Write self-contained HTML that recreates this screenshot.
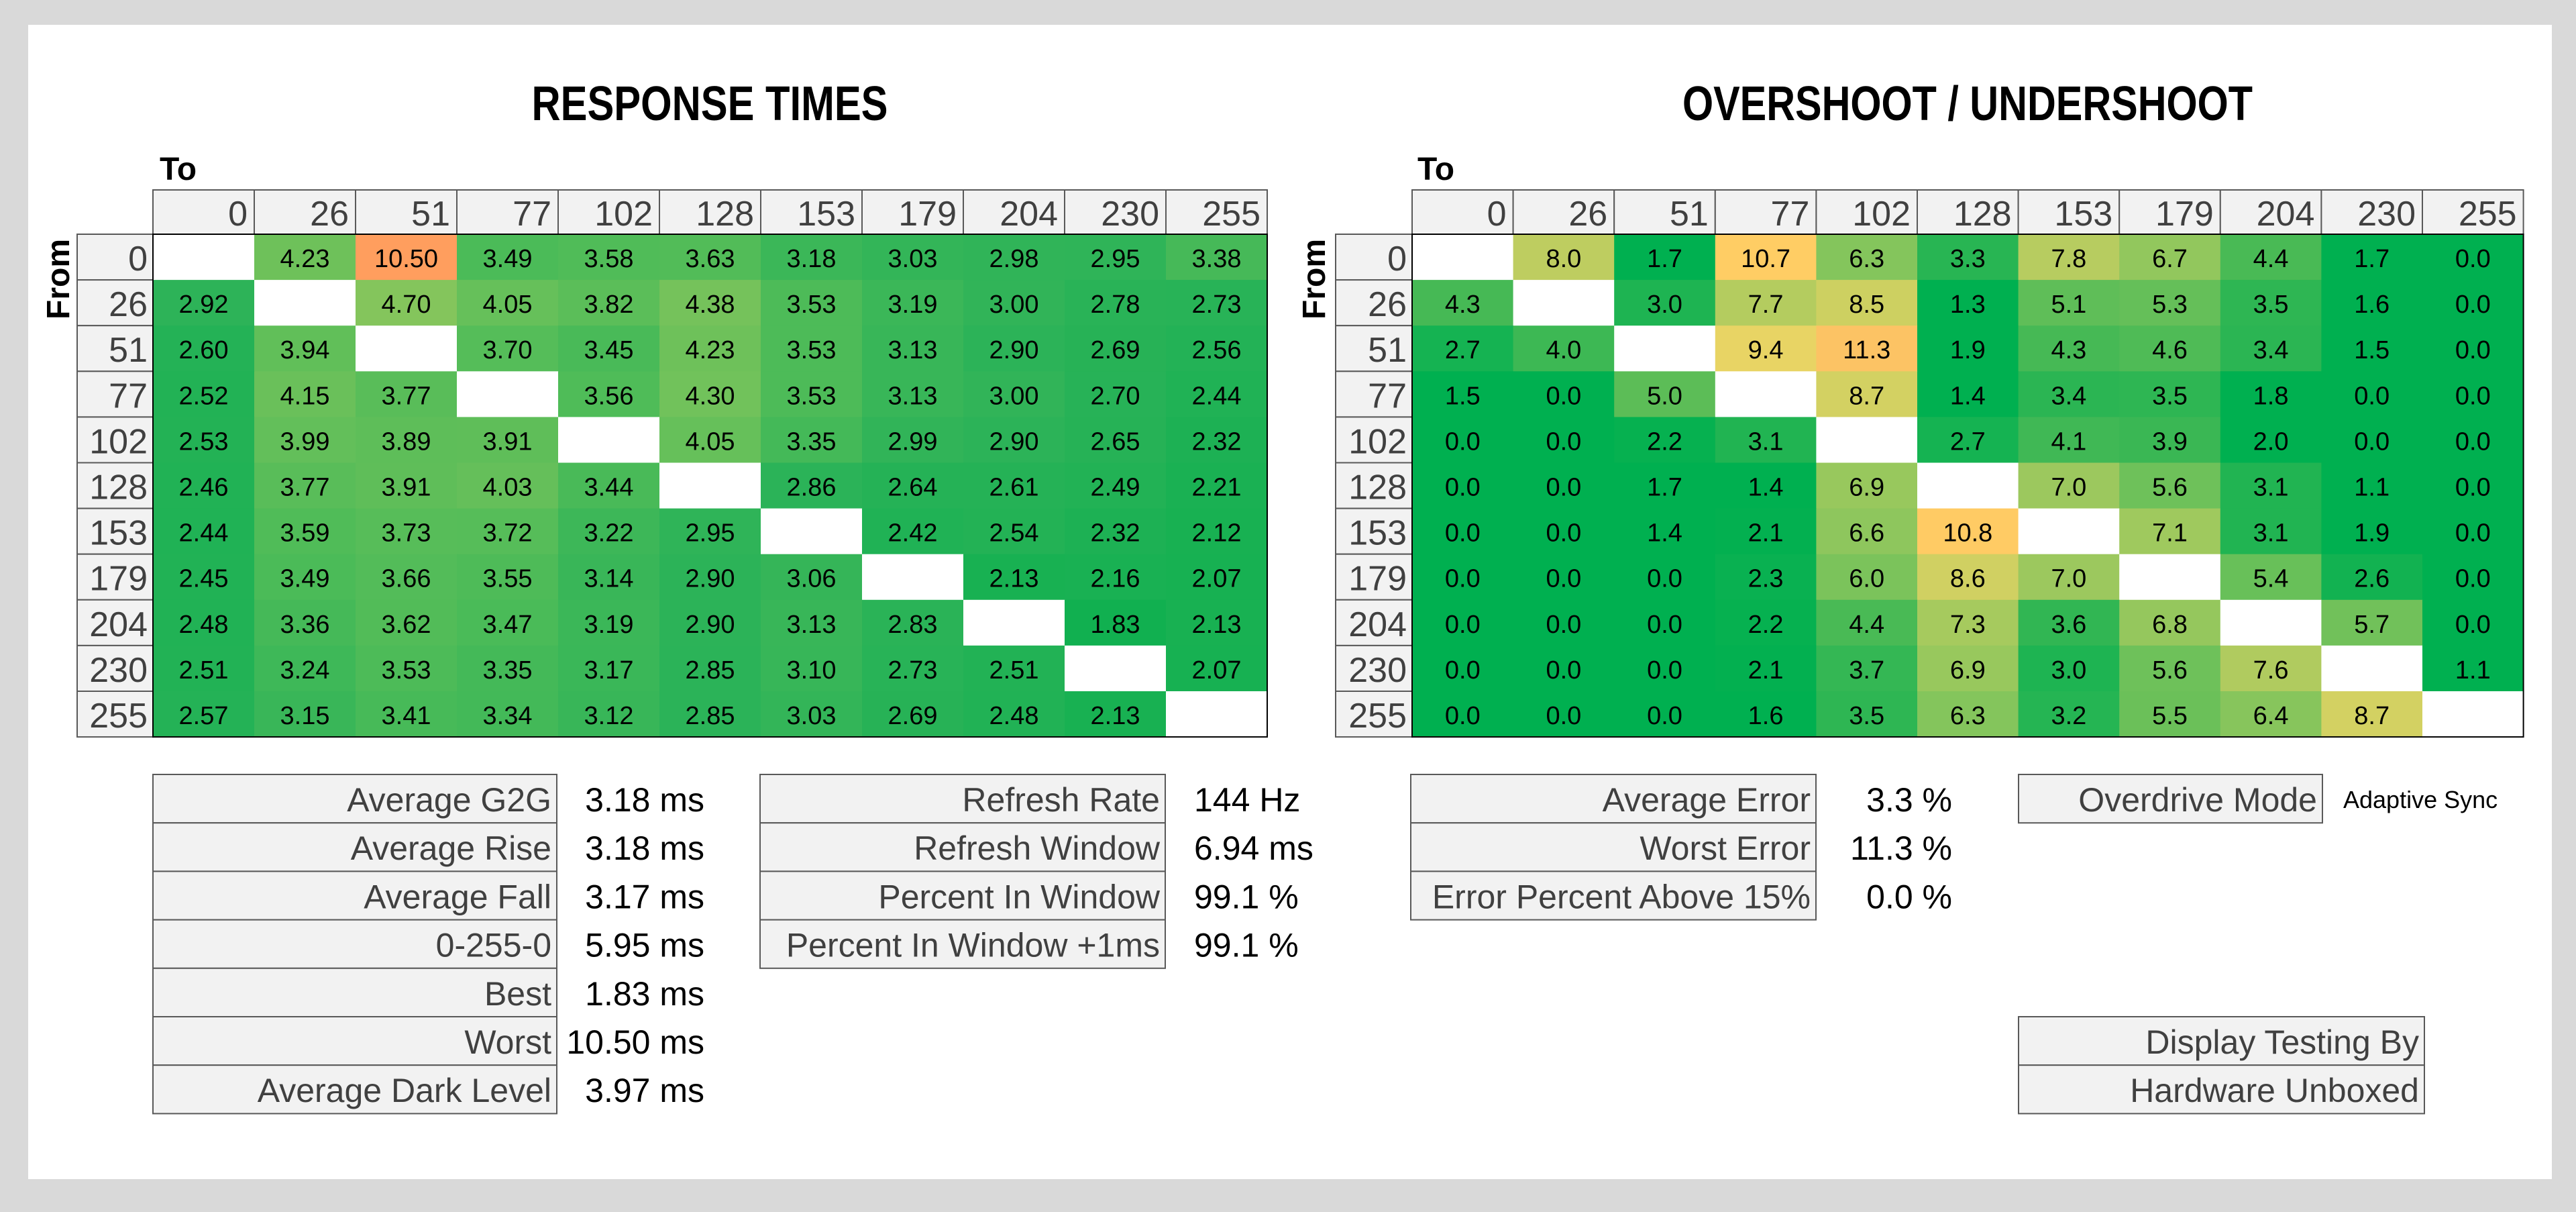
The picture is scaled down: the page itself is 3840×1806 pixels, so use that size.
<!DOCTYPE html>
<html><head><meta charset="utf-8"><style>
html,body{margin:0;padding:0;background:#d9d9d9;}
svg{display:block;}
text{font-family:"Liberation Sans",sans-serif;}
</style></head><body>
<svg id="s" xmlns="http://www.w3.org/2000/svg" width="3840" height="1806" viewBox="0 0 3840 1806">
<rect x="0" y="0" width="3840" height="1806" fill="#d9d9d9"/>
<rect x="42" y="37" width="3762" height="1720" fill="#ffffff"/>
<text x="1058" y="179" font-size="72" font-weight="bold" text-anchor="middle" textLength="531" lengthAdjust="spacingAndGlyphs">RESPONSE TIMES</text>
<text x="2933" y="179" font-size="72" font-weight="bold" text-anchor="middle" textLength="850" lengthAdjust="spacingAndGlyphs">OVERSHOOT / UNDERSHOOT</text>
<text x="238" y="268" font-size="48" font-weight="bold">To</text>
<text x="2113" y="268" font-size="48" font-weight="bold">To</text>
<text transform="translate(103,416) rotate(-90)" font-size="48" font-weight="bold" text-anchor="middle">From</text>
<text transform="translate(1975,416) rotate(-90)" font-size="48" font-weight="bold" text-anchor="middle">From</text>
<g id="g"></g>
</svg>
<script>
const levels = ["0","26","51","77","102","128","153","179","204","230","255"];
const rtValues = [
[null,4.23,10.50,3.49,3.58,3.63,3.18,3.03,2.98,2.95,3.38],
[2.92,null,4.70,4.05,3.82,4.38,3.53,3.19,3.00,2.78,2.73],
[2.60,3.94,null,3.70,3.45,4.23,3.53,3.13,2.90,2.69,2.56],
[2.52,4.15,3.77,null,3.56,4.30,3.53,3.13,3.00,2.70,2.44],
[2.53,3.99,3.89,3.91,null,4.05,3.35,2.99,2.90,2.65,2.32],
[2.46,3.77,3.91,4.03,3.44,null,2.86,2.64,2.61,2.49,2.21],
[2.44,3.59,3.73,3.72,3.22,2.95,null,2.42,2.54,2.32,2.12],
[2.45,3.49,3.66,3.55,3.14,2.90,3.06,null,2.13,2.16,2.07],
[2.48,3.36,3.62,3.47,3.19,2.90,3.13,2.83,null,1.83,2.13],
[2.51,3.24,3.53,3.35,3.17,2.85,3.10,2.73,2.51,null,2.07],
[2.57,3.15,3.41,3.34,3.12,2.85,3.03,2.69,2.48,2.13,null]];
const osValues = [
[null,8.0,1.7,10.7,6.3,3.3,7.8,6.7,4.4,1.7,0.0],
[4.3,null,3.0,7.7,8.5,1.3,5.1,5.3,3.5,1.6,0.0],
[2.7,4.0,null,9.4,11.3,1.9,4.3,4.6,3.4,1.5,0.0],
[1.5,0.0,5.0,null,8.7,1.4,3.4,3.5,1.8,0.0,0.0],
[0.0,0.0,2.2,3.1,null,2.7,4.1,3.9,2.0,0.0,0.0],
[0.0,0.0,1.7,1.4,6.9,null,7.0,5.6,3.1,1.1,0.0],
[0.0,0.0,1.4,2.1,6.6,10.8,null,7.1,3.1,1.9,0.0],
[0.0,0.0,0.0,2.3,6.0,8.6,7.0,null,5.4,2.6,0.0],
[0.0,0.0,0.0,2.2,4.4,7.3,3.6,6.8,null,5.7,0.0],
[0.0,0.0,0.0,2.1,3.7,6.9,3.0,5.6,7.6,null,1.1],
[0.0,0.0,0.0,1.6,3.5,6.3,3.2,5.5,6.4,8.7,null]];
const rtStatLabels = ["Average G2G","Average Rise","Average Fall","0-255-0","Best","Worst","Average Dark Level"];
const rtStatValues = ["3.18 ms","3.18 ms","3.17 ms","5.95 ms","1.83 ms","10.50 ms","3.97 ms"];
const winLabels = ["Refresh Rate","Refresh Window","Percent In Window","Percent In Window +1ms"];
const winValues = ["144 Hz","6.94 ms","99.1 %","99.1 %"];
const errLabels = ["Average Error","Worst Error","Error Percent Above 15%"];
const errValues = ["3.3 %","11.3 %","0.0 %"];

const rtStops = [[1.8,[16,176,80]],[2.9,[44,179,88]],[3.5,[76,187,88]],[4.7,[132,197,92]],[6.5,[230,212,100]],[10.5,[255,158,94]]];
const osStops = [[0,[0,176,80]],[2,[0,176,80]],[4.3,[70,185,85]],[6.3,[132,197,92]],[8.0,[190,205,96]],[9.4,[232,212,100]],[10.7,[255,205,100]],[11.3,[252,195,100]]];
function colorFor(v, stops){
  if(v<=stops[0][0]) return 'rgb('+stops[0][1].join(',')+')';
  for(let i=1;i<stops.length;i++){
    if(v<=stops[i][0]){
      const a=stops[i-1],b=stops[i],t=(v-a[0])/(b[0]-a[0]);
      const c=a[1].map((x,k)=>Math.round(x+(b[1][k]-x)*t));
      return 'rgb('+c.join(',')+')';
    }
  }
  return 'rgb('+stops[stops.length-1][1].join(',')+')';
}
const NS='http://www.w3.org/2000/svg';
const g=document.getElementById('g');
function el(tag, attrs, txt){
  const e=document.createElementNS(NS,tag);
  for(const k in attrs) e.setAttribute(k,attrs[k]);
  if(txt!==undefined) e.textContent=txt;
  g.appendChild(e);
  return e;
}
const HDR_TOP=283, DATA_TOP=349, ROW_H=68.1;
function drawTable(x0, labX, colW, values, stops, digits, key){
  const colX = i => x0 + i*colW;
  const rowY = j => DATA_TOP + j*ROW_H;
  for(let i=0;i<levels.length;i++){
    const r=el('rect',{x:colX(i),y:HDR_TOP,width:colW,height:DATA_TOP-HDR_TOP,fill:'#f2f2f2',stroke:'#595959','stroke-width':2});
    
    
    const t=el('text',{x:colX(i)+colW-10,y:HDR_TOP+53,'font-size':52,fill:'#404040','text-anchor':'end'},levels[i]);
    
    
  }
  for(let j=0;j<levels.length;j++){
    const r=el('rect',{x:labX,y:rowY(j),width:x0-labX,height:ROW_H,fill:'#f2f2f2',stroke:'#595959','stroke-width':2});
    
    
    const t=el('text',{x:x0-8,y:rowY(j)+54,'font-size':52,fill:'#404040','text-anchor':'end'},levels[j]);
    
    
  }
  for(let j=0;j<levels.length;j++){
    for(let i=0;i<levels.length;i++){
      const v=values[j][i];
      const c=el('rect',{x:colX(i),y:rowY(j),width:colW+0.5,height:ROW_H+0.5,fill:v===null?'#ffffff':colorFor(v,stops)});
      
      
      if(v!==null){
        const t=el('text',{x:colX(i)+colW/2,y:rowY(j)+49,'font-size':38,fill:'#000','text-anchor':'middle'},v.toFixed(digits));
        
        
      }
    }
  }
  const b=el('rect',{x:x0,y:DATA_TOP,width:colW*levels.length,height:ROW_H*levels.length,fill:'none',stroke:'#000','stroke-width':2});
  
  
}
drawTable(228,115,151,rtValues,rtStops,2,'rt');
drawTable(2105,1991,150.6,osValues,osStops,1,'os');

const ST_TOP=1154, ST_H=72.2;
function drawStats(x0,x1,top,labels,values,valX,anchor,key,valSize){
  for(let j=0;j<labels.length;j++){
    const y=top+j*ST_H;
    const r=el('rect',{x:x0,y:y,width:x1-x0,height:ST_H,fill:'#f2f2f2',stroke:'#595959','stroke-width':2});
    
    
    const t=el('text',{x:x1-8,y:y+55,'font-size':50,fill:'#404040','text-anchor':'end'},labels[j]);
    
    
    if(values && values[j]!==undefined){
      const v=el('text',{x:valX,y:y+55,'font-size':valSize||50,fill:'#000','text-anchor':anchor},values[j]);
      
      
    }
  }
}
drawStats(228,830,ST_TOP,rtStatLabels,rtStatValues,1050,'end','rt-stat');
drawStats(1133,1737,ST_TOP,winLabels,winValues,1780,'start','window-stat');
drawStats(2103,2707,ST_TOP,errLabels,errValues,2910,'end','error-stat');
drawStats(3009,3462,ST_TOP,["Overdrive Mode"],null,0,'end','overdrive');
const od=el('text',{x:3493,y:ST_TOP+50,'font-size':36,fill:'#000'},'Adaptive Sync');


drawStats(3009,3614,1515,["Display Testing By","Hardware Unboxed"],null,0,'end','credit');
</script>
</body></html>
